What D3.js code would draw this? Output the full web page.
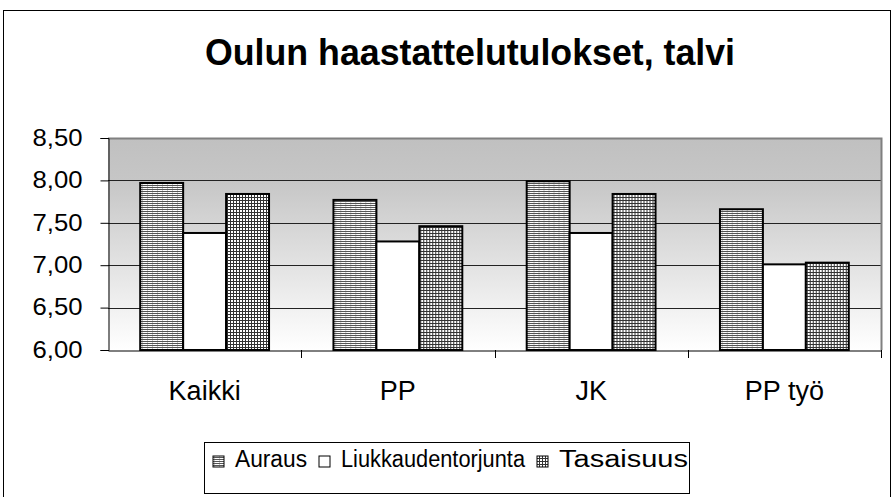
<!DOCTYPE html>
<html>
<head>
<meta charset="utf-8">
<script src="https://cdn.jsdelivr.net/npm/d3@7"></script>
<style>
  body { margin: 0; background: #fff; }
  text { font-family: "Liberation Sans", Arial, sans-serif; fill: #000; }
</style>
</head>
<body>
<script>
// data
const categories = ["Kaikki", "PP", "JK", "PP työ"];
const seriesNames = ["Auraus", "Liukkaudentorjunta", "Tasaisuus"];
const auraus = [7.97, 7.77, 7.99, 7.66];
const liukkaus = [7.38, 7.28, 7.38, 7.01];
const tasaisuus = [7.84, 7.46, 7.84, 7.03];
const yTicks = [6.0, 6.5, 7.0, 7.5, 8.0, 8.5];
const title = "Oulun haastattelutulokset, talvi";

const width = 893, height = 497;
const plot = { left: 108, right: 881, top: 138, bottom: 350 };
// legend label widths as drawn in the original
const legendTextW = [72, 184, 129];

const svg = d3.select("body").append("svg")
  .attr("width", width)
  .attr("height", height);

const defs = svg.append("defs");

// background gradient of the plot area
const grad = defs.append("linearGradient")
  .attr("id", "bg").attr("x1", 0).attr("y1", 0).attr("x2", 0).attr("y2", 1);
grad.append("stop").attr("offset", "0").attr("stop-color", "#c0c0c0");
grad.append("stop").attr("offset", "0.2").attr("stop-color", "#c6c6c6");
grad.append("stop").attr("offset", "1").attr("stop-color", "#ffffff");

// horizontal line pattern (Auraus)
const pH = defs.append("pattern").attr("id", "pat-h")
  .attr("patternUnits", "userSpaceOnUse").attr("width", 5).attr("height", 2);
pH.append("rect").attr("width", 5).attr("height", 2).attr("fill", "#fff");
pH.append("rect").attr("y", 1).attr("width", 5).attr("height", 1).attr("fill", "#555");
pH.append("rect").attr("x", 4).attr("width", 1).attr("height", 1).attr("fill", "#c8c8c8");

// grid pattern (Tasaisuus)
const pG = defs.append("pattern").attr("id", "pat-g")
  .attr("patternUnits", "userSpaceOnUse").attr("width", 3).attr("height", 3);
pG.append("rect").attr("width", 3).attr("height", 3).attr("fill", "#fff");
pG.append("rect").attr("y", 2).attr("width", 3).attr("height", 1).attr("fill", "#333");
pG.append("rect").attr("x", 2).attr("width", 1).attr("height", 3).attr("fill", "#333");

const fills = ["url(#pat-h)", "#ffffff", "url(#pat-g)"];
const values = [auraus, liukkaus, tasaisuus];

// outer chart frame
svg.append("rect")
  .attr("x", 3.5).attr("y", 10.5)
  .attr("width", 887).attr("height", 520)
  .attr("fill", "#fff").attr("stroke", "#000");

svg.append("text")
  .attr("x", 470).attr("y", 65)
  .attr("text-anchor", "middle")
  .attr("textLength", 530).attr("lengthAdjust", "spacingAndGlyphs")
  .style("font-size", "36px").style("font-weight", "bold")
  .text(title);

// scales
const y = d3.scaleLinear().domain([6, 8.5]).range([plot.bottom, plot.top]);
const x0 = d3.scaleBand().domain(categories).range([plot.left, plot.right]);
const x1 = d3.scaleBand().domain(seriesNames).range([0, x0.bandwidth()]).paddingOuter(0.75);

// plot background
svg.append("rect")
  .attr("x", plot.left).attr("y", plot.top)
  .attr("width", plot.right - plot.left).attr("height", plot.bottom - plot.top)
  .attr("fill", "url(#bg)");

// grid lines
svg.append("g").selectAll("line")
  .data(yTicks.slice(1, -1))
  .join("line")
  .attr("x1", plot.left).attr("x2", plot.right)
  .attr("y1", d => Math.round(y(d)) + 0.5).attr("y2", d => Math.round(y(d)) + 0.5)
  .attr("stroke", "#222");

// plot frame top and right (gray)
svg.append("path")
  .attr("d", `M${plot.left},${plot.top + 0.5}H${plot.right + 0.5}V${plot.bottom}`)
  .attr("fill", "none").attr("stroke", "#808080").attr("stroke-width", 2);

// bars
const groups = svg.append("g").selectAll("g")
  .data(categories)
  .join("g")
  .attr("transform", d => `translate(${x0(d)},0)`);

groups.selectAll("rect")
  .data((c, i) => seriesNames.map((s, j) => ({ s, j, v: values[j][i] })))
  .join("rect")
  .attr("x", d => x1(d.s))
  .attr("y", d => y(d.v))
  .attr("width", x1.bandwidth())
  .attr("height", d => y(6) - y(d.v))
  .attr("fill", d => fills[d.j])
  .attr("stroke", "#000")
  .attr("stroke-width", 2);

// y axis
const yAxis = svg.append("g")
  .attr("transform", `translate(${plot.left + 0.5},0)`)
  .call(d3.axisLeft(y).tickValues(yTicks).tickSize(8).tickPadding(18)
    .tickFormat(d => d3.format(".2f")(d).replace(".", ",")));
yAxis.select(".domain").attr("stroke", "#000");
yAxis.selectAll("text")
  .style("font-size", "23px").attr("font-family", null)
  .attr("textLength", 50).attr("lengthAdjust", "spacingAndGlyphs");

// x axis
const xAxis = svg.append("g")
  .attr("transform", `translate(0,${plot.bottom + 0.5})`)
  .call(d3.axisBottom(x0).tickSize(0).tickPadding(30));
xAxis.select(".domain").attr("stroke", "#000");
xAxis.selectAll("text").style("font-size", "27px").attr("font-family", null);

// tick marks between categories
svg.append("g").selectAll("line")
  .data(categories.slice(1).concat(["end"]))
  .join("line")
  .attr("x1", (d, i) => Math.round(plot.left + x0.step() * (i + 1)) + 0.5)
  .attr("x2", (d, i) => Math.round(plot.left + x0.step() * (i + 1)) + 0.5)
  .attr("y1", plot.bottom).attr("y2", plot.bottom + 8)
  .attr("stroke", "#000");

// legend
const legend = svg.append("g");
legend.append("rect")
  .attr("x", 204.5).attr("y", 442.5)
  .attr("width", 485).attr("height", 51)
  .attr("fill", "#fff").attr("stroke", "#000");

let lx = 213;
seriesNames.forEach((s, j) => {
  legend.append("rect")
    .attr("x", lx).attr("y", 456)
    .attr("width", 11).attr("height", 11)
    .attr("fill", fills[j]).attr("stroke", "#000");
  legend.append("text")
    .attr("x", lx + 22).attr("y", 467)
    .attr("textLength", legendTextW[j]).attr("lengthAdjust", "spacingAndGlyphs")
    .style("font-size", "23px")
    .text(s);
  lx += 22 + legendTextW[j] + 12;
});
</script>
</body>
</html>
